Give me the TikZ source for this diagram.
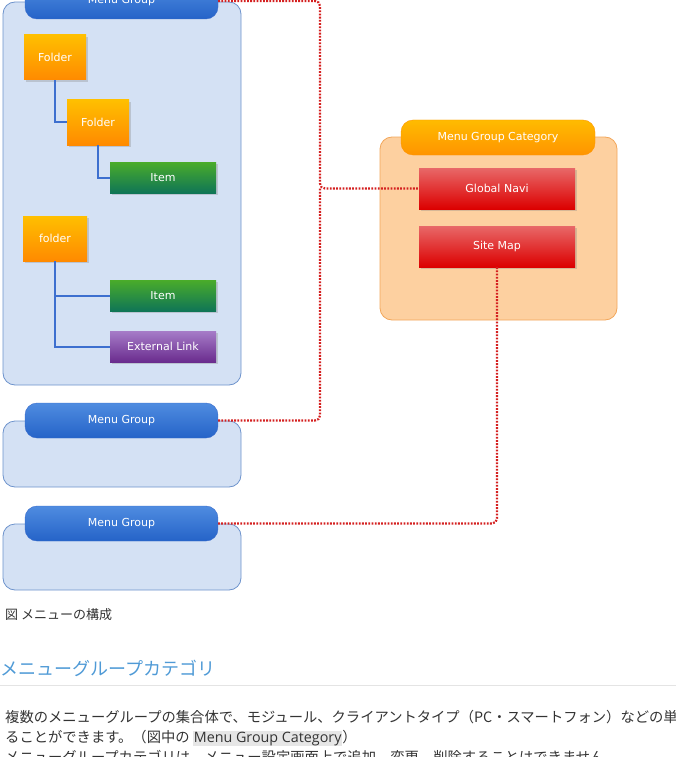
\documentclass[tikz,border=0pt]{standalone}
\usepackage{fontspec}
\usepackage{tikz}
\usetikzlibrary{shadows}
\newfontfamily\labelfont{DejaVu Sans}
\newfontfamily\jpfont{Noto Sans CJK JP}
\newfontfamily\latinfont{Open Sans}
\definecolor{groupfill}{HTML}{D4E1F4}
\definecolor{groupedge}{HTML}{6D93CC}
\definecolor{headtop}{HTML}{4F8CE0}
\definecolor{headbot}{HTML}{2563C8}
\definecolor{headedge}{HTML}{3A6CCC}
\definecolor{foldtop}{HTML}{FFBF00}
\definecolor{foldbot}{HTML}{FF8A00}
\definecolor{itemtop}{HTML}{4AAC2A}
\definecolor{itembot}{HTML}{0F7556}
\definecolor{linktop}{HTML}{A67CC8}
\definecolor{linkbot}{HTML}{6A2C8E}
\definecolor{navtop}{HTML}{E86868}
\definecolor{navbot}{HTML}{DC0000}
\definecolor{catfill}{HTML}{FDD0A0}
\definecolor{catedge}{HTML}{F2A65A}
\definecolor{cattop}{HTML}{FFBB00}
\definecolor{catbot}{HTML}{FF9400}
\definecolor{treeline}{HTML}{3D6FCF}
\definecolor{dotred}{HTML}{D42020}
\definecolor{bodytext}{HTML}{333333}
\definecolor{headblue}{HTML}{4F9AD6}
\definecolor{rulegray}{HTML}{E4E4E4}
\definecolor{codegray}{HTML}{E6E6E6}

\begin{document}
\begin{tikzpicture}[x=1pt,y=-1pt,
  groupbox/.style={draw=groupedge, fill=groupfill, rounded corners=12pt,
    line width=0.8pt, minimum width=238pt},
  grouphead/.style={draw=headedge, top color=headtop, bottom color=headbot,
    rounded corners=12pt, minimum width=193pt, minimum height=36pt,
    text=white, font=\labelfont\fontsize{11}{13}\selectfont},
  box/.style={inner sep=0pt, text=white, font=\labelfont\fontsize{11}{13}\selectfont,
    drop shadow={opacity=0.3, shadow xshift=2pt, shadow yshift=-2pt}},
  folderbox/.style={box, top color=foldtop, bottom color=foldbot,
    minimum width=62pt, minimum height=45pt},
  itembox/.style={box, top color=itemtop, bottom color=itembot,
    minimum width=106pt, minimum height=31pt},
  linkbox/.style={box, top color=linktop, bottom color=linkbot,
    minimum width=106pt, minimum height=31pt},
  navbox/.style={box, top color=navtop, bottom color=navbot,
    minimum width=156pt, minimum height=41pt},
  tree/.style={draw=treeline, line width=2pt},
  link/.style={draw=dotred, line width=2.2pt, dash pattern=on 1.8pt off 1.4pt,
    rounded corners=5pt},
  bodyline/.style={anchor=base west, inner sep=0pt, text=bodytext,
    font=\jpfont\fontsize{14.3}{17}\selectfont}
]
  \useasboundingbox (0,0) rectangle (676,757);
  \clip (0,0) rectangle (676,757);
  % menu groups
  \node[groupbox, minimum height=383pt] (groupA) at (122,193.5) {};
  \node[groupbox, minimum height=66pt] (groupB) at (122,454) {};
  \node[groupbox, minimum height=66pt] (groupC) at (122,557) {};
  \node[grouphead] (headA) at (121.5,1) {Menu Group};
  \node[grouphead, minimum height=35pt] (headB) at (121.5,420.5) {Menu Group};
  \node[grouphead, minimum height=35pt] (headC) at (121.5,523.5) {Menu Group};
  % folders and items
  \node[folderbox] (folderA) at (55,57.5) {Folder};
  \node[folderbox] (folderB) at (98,122.5) {Folder};
  \node[itembox] (itemA) at (163,177.5) {Item};
  \node[folderbox, minimum width=64pt] (folderC) at (55,238.5) {folder};
  \node[itembox] (itemB) at (163,295.5) {Item};
  \node[linkbox] (extLink) at (163,346.5) {External Link};
  \draw[tree] (folderA.south) |- (folderB.west);
  \draw[tree] (folderB.south) |- (itemA.west);
  \draw[tree] (folderC.south) |- (itemB.west);
  \draw[tree] (folderC.south) |- (extLink.west);
  % category
  \node[draw=catedge, fill=catfill, rounded corners=12pt, line width=0.8pt,
    minimum width=237pt, minimum height=183pt] (catBox) at (498.5,228.5) {};
  \node[grouphead, draw=catbot, top color=cattop, bottom color=catbot,
    minimum width=194pt, minimum height=35pt] (catHead) at (498,137.5) {Menu Group Category};
  \node[navbox] (globalNavi) at (497,188.5) {Global Navi};
  \node[navbox] (siteMap) at (497,246.5) {Site Map};
  % dotted links
  \coordinate (hub) at (320,188.5);
  \draw[link] (headA.east) -| (hub) -- (globalNavi.west);
  \draw[link] (headB.east) -| (hub);
  \draw[link] (siteMap.south) |- (headC.east);
  % text below
  \node[bodyline, font=\jpfont\fontsize{13}{15}\selectfont] (caption) at (5,619) {図 メニューの構成};
  \node[bodyline, text=headblue, font=\jpfont\fontsize{18}{21}\selectfont] (heading) at (0,675) {メニューグループカテゴリ};
  \draw[rulegray, line width=1pt] (0,685) -- (676,685);
  \node[bodyline] (lineA) at (5,722) {複数のメニューグループの集合体で、モジュール、クライアントタイプ（PC・スマートフォン）などの単位でまとめ};
  \node[bodyline] (lineB) at (5,742) {ることができます。（図中の {\setlength{\fboxsep}{1pt}\colorbox{codegray}{\latinfont Menu Group Category}}）};
  \node[bodyline] (lineC) at (5,762) {メニューグループカテゴリは、メニュー設定画面上で追加、変更、削除することはできません。};
\end{tikzpicture}
\end{document}
